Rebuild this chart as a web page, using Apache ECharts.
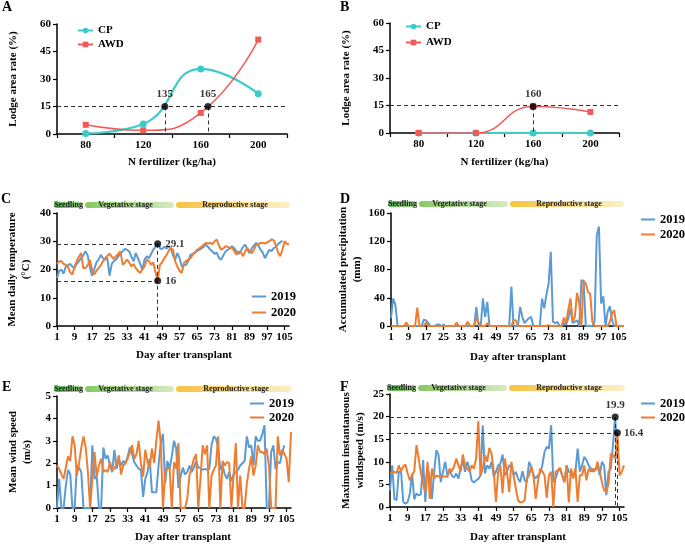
<!DOCTYPE html>
<html>
<head>
<meta charset="utf-8">
<script src="https://cdn.jsdelivr.net/npm/echarts@6/dist/echarts.min.js"></script>
<style>html,body{margin:0;padding:0;background:#fff}#main{width:685px;height:545px}</style>
</head>
<body>
<div id="main"></div>
<script>
// panels A/B: lodging area rate vs N rate
var nLevels = ['80', '120', '160', '200'];
var cpA = [0.3, 5.5, 35.5, 22];
var awdA = [5, 2, 11.5, 51.5];
var cpB = [0, 0, 0, 0];
var awdB = [0, 0, 14.5, 11.5];
var lodgeLimit = 15;
var critA = [[135, 15], [165, 15]];
var critB = [['160', 14.5]];

// panels C-F: daily weather after transplant
var days = [];
for (var d = 1; d <= 107; d++) days.push(String(d));

var temp2019 = [17,19.5,20,18.5,21,21.5,22,21,20.5,22, 23,24,25,26.5,25,21,17.8,20,22.5,23.5,
  25.2,24,23.5,24,17.8,22,23,23.5,24.7,25.5, 26.5,27.3,27,26.4,24.5,22.9,25.8,24,22,20,
  23.5,24.7,24,25.5,27,28,29.1,27.6,27.2,28, 27.5,28,27.6,25,23.5,25.8,24,21.1,21.5,21.7,
  23,25.2,25.5,26,26.5,27,27.5,28,28.8,28, 27,26.4,25.5,26,24,23.5,25,26.4,27,27.5,
  28.2,27.5,26.4,25.5,26.5,28,28.8,27,25.8,27.5, 28.5,29.4,28.5,27,26,24,25.5,27,26.5,27.6,
  28,29,29.6,30.3];
var temp2020 = [22,22.9,23,22,21.7,21,19,18.2,21,22.9, 24.5,25.8,20.5,20.5,21.5,23.5,20,18.2,19.5,20.5,
  21.5,22.9,24,24.8,25.6,24.5,23.7,24.8,25.5,26.4, 21.7,22.5,23.5,22.5,21.1,22,20.5,19.5,18.8,20,
  21.1,23.5,23,21.7,22.5,19,16,21.7,22.5,24, 25,26.5,27.6,27,22.9,21,19.5,18.8,22.3,23,
  23.5,24,25.2,26,27,27.5,28,28.8,29.4,29.2, 29.4,29,30,30.6,28.5,27,27.5,28.2,28,27.6,
  27.8,26.5,25.2,26.4,26,24.7,26.5,27.6,26.5,25.8, 27,28.8,29,29.4,29.4,29.2,29.6,30,30.6,30.4,
  28.5,26,24.7,27,30,29.1,28.8];
var tempMark = {day: '47', hi: 29.1, lo: 16};

var rain2019 = [11,39,30,0,0,0,0,0,0,0, 0,0,0,0,0,9,8,4,0,0, 0,2,2,0,2,0,0,0,0,0,
  0,0,0,0,0,0,0,0,0,27, 0,0,39,13,34,0,0,0,0,0, 0,0,0,0,0,56,0,0,0,27,
  13,4,8,11,13,0,0,0,0,39, 25,44,60,105,6,4,6,0,0,4, 2,11,25,4,6,8,0,65,64,0,
  0,0,0,6,128,141,32,42,0,20, 28,8,0,0];
var rain2020 = [0,0,0,0,0,0,0,5,0,0, 0,0,26,0,0,0,5,0,0,0, 0,0,0,0,0,0,0,0,0,0,
  5,0,0,0,0,6,0,0,0,12, 5,0,0,0,4,0,0,0,0,0, 0,0,0,0,0,0,8,8,0,0,
  0,0,0,0,0,0,0,0,0,0, 0,0,1,0,0,0,0,0,0,12, 4,23,39,6,13,47,32,0,64,60,
  48,46,6,0,0,0,0,0,0,0, 6,18,22,0,0,0,0];

var wind2019 = [0,1.3,0,0,1.0,1.7,1.5,0,0,1.9, 1.8,1.6,0,0,0,0,2.8,1.3,1.4,0,
  0,2.7,2.2,2.35,1.9,1.6,2.6,1.75,2.2,1.9, 2.1,2.0,2.3,2.7,2.4,2.05,1.9,1.75,1.7,0.5,
  1.3,1.6,2.2,0.7,0.7,0.7,1.9,2.9,3.3,1.1, 2.1,1.75,2.3,3.0,2.65,0.9,1.4,1.8,1.5,1.6,
  1.9,1.6,1.8,2.1,1.8,1.8,1.7,1.75,1.7,1.75, 2.8,3.2,3.1,2.7,1.7,1.9,1.5,1.3,1.6,1.2,
  1.5,1.6,1.7,1.9,2.0,2.1,3.2,2.7,2.8,1.9, 3.2,3.0,3.0,3.3,3.7,0,0,2.5,2.8,1.75,
  2.05,2.0,2.5,2.8];
var wind2020 = [1.9,1.75,1.5,1.3,1.8,2.3,2.1,3.2,2.8,1.45, 2.0,2.7,3.2,2.7,1.6,0,1.3,2.5,1.4,1.9,
  2.2,1.6,1.7,1.6,2.05,1.7,1.75,2.0,2.35,1.5, 1.9,2.0,2.2,2.5,2.8,2.2,2.4,3.0,2.0,1.4,
  2.6,2.05,1.8,2.65,2.0,3.0,3.9,2.9,0,1.6, 1.75,1.8,0,2.05,1.75,2.9,0,0,0,0.4,
  1.45,1.8,2.2,2.4,0,1.3,2.8,2.4,2.8,0, 1.45,1.7,1.9,3.2,0,2.1,1.9,2.05,2.0,0,
  1.45,2.9,0,1.45,0,0,1.1,1.75,2.3,1.45, 1.9,2.8,2.5,2.5,2.4,2.65,1.9,0,0,0,
  3.2,2.35,2.6,2.4,2.2,1.15,3.4];

var gust2019 = [3.7,9.2,1.8,1.5,7.8,7.9,1.1,0.7,1.1,3.0, 7.4,1.7,3.0,2.6,2.8,10.4,1.1,8.9,6.3,1.8,
  7.8,12.6,11.5,5.5,7.8,10,7,8.1,7,6.5, 7.4,6.3,8.5,10.4,7.8,10,8.5,5.9,5.4,5.9,
  6.2,7,18.1,7.4,9.2,8.5,10,6.7,7.8,9.2, 9.6,11.6,7,7.8,9.2,9.2,7,7.8,6.3,5.5,
  7.9,5.9,5.5,10,8.9,7,6.3,7,7.5,9.2, 12.2,13.3,12.9,18.1,5.5,6.3,7.8,8.5,7,5.5,
  9.2,7.8,7.5,7,7.8,12.9,7.8,9.2,11.1,10.4, 9.2,8.5,7.8,8.3,9.2,7,10,9.2,2.6,7.8,
  8.5,13.7,19.9,10.5];
var gust2020 = [7.4,7.6,7.8,7.5,9.2,7.9,8.9,9.4,7.4,5.9, 7,7.9,13.7,10.7,7.5,5.2,3.3,10,1.8,8.5,
  6.3,7,6.7,6.8,6.7,6.8,6.6,8.5,7.9,8.9, 10.7,9.2,7.8,11.6,9.2,8.5,7.8,9.2,8.5,10.7,
  19,7,8.5,11.5,10,13.1,11.8,7.8,1.1,7.8, 9.2,3.0,10.7,7.8,3.3,10,7,4.1,1.5,1.0,
  1.1,1.5,6.3,7,8.9,7,1.8,5.5,8.5,7.9, 7,2,7,7.8,0,7.8,8.1,8.7,7,5.5,
  9.2,1,8.5,6.3,8.5,1.1,7,7,9.2,5.9, 8.5,7.8,8.5,8,10,7.8,5.5,3.7,3.3,5.2,
  11.8,11.5,10.7,16.4,7,7.8,9.2];
var gustMarks = [['103', 19.9], ['104', 16.4]];

var FONT = 'Liberation Serif';
var cCP = '#3ccbc6', cAWD = '#f25a5a', c19 = '#5b9bd5', c20 = '#ed7d31';

var grids = [
    {left: 57, top: 24, width: 230, height: 110},
    {left: 390, top: 23, width: 229, height: 110},
    {left: 57, top: 213, width: 232, height: 113},
    {left: 391, top: 213, width: 232, height: 113},
    {left: 57, top: 396, width: 234, height: 112},
    {left: 390, top: 394, width: 234, height: 113}
];

function txt(size) {
    return {color: '#000', fontFamily: FONT, fontWeight: 'bold', fontSize: size};
}
var axLine = {lineStyle: {color: '#000', width: 1.5}};
var axTick = {show: true, inside: false, length: 4, lineStyle: {color: '#000', width: 1.2}};

function xCat(gi, data, name, gap, shift, every) {
    var tick = Object.assign({}, axTick);
    var lab = Object.assign({margin: 6}, txt(11));
    if (every) { tick.interval = every; lab.interval = every; }
    return {
        type: 'category', gridIndex: gi, data: data, boundaryGap: !every,
        axisLine: axLine, axisTick: tick, axisLabel: lab, splitLine: {show: false},
        name: name, nameLocation: 'middle', nameGap: gap,
        nameTextStyle: Object.assign({padding: [0, 0, 0, shift]}, txt(11))
    };
}
function yVal(gi, max, step, name, gap) {
    return {
        type: 'value', gridIndex: gi, min: 0, max: max, interval: step,
        axisLine: {show: true, lineStyle: axLine.lineStyle}, axisTick: axTick,
        axisLabel: Object.assign({margin: 6}, txt(11)), splitLine: {show: false},
        name: name, nameLocation: 'middle', nameGap: gap,
        nameTextStyle: Object.assign({lineHeight: 14}, txt(11))
    };
}

var dash = {color: '#333', type: [4, 3], width: 1};
function guides(list) {
    return {silent: true, symbol: ['none', 'none'], label: {show: false},
        lineStyle: dash, emphasis: {disabled: true}, data: list};
}
function seg(x1, y1, x2, y2) {
    return [{coord: [x1, y1]}, {coord: [x2, y2]}];
}
function dots(xi, yi, data, fmt, lab, ml) {
    return {type: 'scatter', xAxisIndex: xi, yAxisIndex: yi, data: data, symbolSize: 7, z: 5,
        itemStyle: {color: '#000'}, emphasis: {disabled: true},
        label: Object.assign({show: true, formatter: fmt}, lab, txt(11)), markLine: ml};
}
function lodge(name, data, gi, color, sym) {
    return {name: name, type: 'line', xAxisIndex: gi, yAxisIndex: gi, data: data, smooth: true,
        symbol: sym, symbolSize: sym === 'circle' ? 7 : 6,
        lineStyle: {color: color, width: sym === 'circle' ? 2.2 : 1.5}, itemStyle: {color: color}};
}
function daily(name, data, gi, color) {
    return {name: name, type: 'line', xAxisIndex: gi, yAxisIndex: gi, data: data, symbol: 'none',
        lineStyle: {color: color, width: 2}, itemStyle: {color: color}};
}
function legendAt(names, left, top, gap, size, line) {
    var l = {data: names, orient: 'vertical', left: left, top: top, itemGap: gap,
        textStyle: txt(size), padding: 0};
    if (line) { l.icon = 'rect'; l.itemWidth = line; l.itemHeight = 2; }
    else { l.itemWidth = 15; l.itemHeight = 7; }
    return l;
}

function stageBar(g, cy) {
    var L = g.left, R = g.left + g.width;
    var parts = [
        {x0: L - 3, x1: L + 26, c: ['#4db445', '#a8d993'], t: 'Seedling', dx: 0},
        {x0: L + 28, x1: L + 117, c: ['#86c964', '#d6eac0'], t: 'Vegetative stage', dx: -4},
        {x0: L + 119, x1: R + 1, c: ['#f6c240', '#fcefc7'], t: 'Reproductive stage', dx: 2}
    ];
    var out = [];
    parts.forEach(function (p) {
        out.push({type: 'rect', shape: {x: p.x0, y: cy - 3, width: p.x1 - p.x0, height: 6, r: 3},
            style: {fill: new echarts.graphic.LinearGradient(0, 0, 1, 0,
                [{offset: 0, color: p.c[0]}, {offset: 1, color: p.c[1]}])}, silent: true});
        out.push({type: 'text', x: (p.x0 + p.x1) / 2 + p.dx, y: cy, silent: true,
            style: {text: p.t, fill: '#222', align: 'center', verticalAlign: 'middle',
                font: 'bold 8px "' + FONT + '"'}});
    });
    return out;
}
function letter(t, x, y) {
    return {type: 'text', x: x, y: y, silent: true,
        style: {text: t, fill: '#000', verticalAlign: 'top', font: 'bold 14px "' + FONT + '"'}};
}

var bIdx = nLevels.indexOf(critB[0][0]);
var tIdx = days.indexOf(tempMark.day);
var g1 = days.indexOf(gustMarks[0][0]), g2 = days.indexOf(gustMarks[1][0]);

var chart = echarts.init(document.getElementById('main'));
var option = {
    animation: false,
    backgroundColor: '#fff',
    grid: grids,
    xAxis: [
        xCat(0, nLevels, 'N fertilizer (kg/ha)', 23, 0),
        xCat(1, nLevels, 'N fertilizer (kg/ha)', 24, 0),
        xCat(2, days, 'Day after transplant', 24, 22, 7),
        xCat(3, days, 'Day after transplant', 26, 22, 7),
        xCat(4, days, 'Day after transplant', 24, 18, 7),
        xCat(5, days, 'Day after transplant', 25, 22, 7),
        {type: 'value', gridIndex: 0, min: 60, max: 220, show: false}
    ],
    yAxis: [
        yVal(0, 60, 15, 'Lodge area rate (%)', 37),
        yVal(1, 60, 15, 'Lodge area rate (%)', 37),
        yVal(2, 40, 10, 'Mean daily temperature\n(°C)', 24),
        yVal(3, 160, 40, 'Accumulated precipitation\n(mm)', 24),
        yVal(4, 5, 1, 'Mean wind speed\n(m/s)', 23),
        yVal(5, 25, 5, 'Maximum instantaneous\nwindspeed (m/s)', 23)
    ],
    legend: [
        legendAt(['CP', 'AWD'], 77, 25, 3, 11),
        legendAt(['CP', 'AWD'], 405, 21, 5, 11),
        legendAt(['2019', '2020'], 252, 290, 3, 12.5, 14),
        legendAt(['2019', '2020'], 641, 213, 2, 12.5, 14),
        legendAt(['2019', '2020'], 250, 397, 1, 12.5, 14),
        legendAt(['2019', '2020'], 641, 397, 1, 12.5, 14)
    ],
    graphic: [
        letter('A', 2, 0), letter('B', 340, 0), letter('C', 1, 192),
        letter('D', 340, 192), letter('E', 2, 380), letter('F', 340, 380)
    ].concat(stageBar(grids[2], 205), stageBar(grids[3], 204),
        stageBar(grids[4], 389), stageBar(grids[5], 388)),
    series: [
        Object.assign(lodge('CP', cpA, 0, cCP, 'circle'), {markLine: guides([{yAxis: lodgeLimit}])}),
        lodge('AWD', awdA, 0, cAWD, 'rect'),
        dots(6, 0, critA, function (p) { return p.value[0]; }, {position: 'top', distance: 3},
            guides(critA.map(function (c) { return seg(c[0], c[1], c[0], 0); }))),

        Object.assign(lodge('CP', cpB, 1, cCP, 'circle'), {markLine: guides([{yAxis: lodgeLimit}])}),
        lodge('AWD', awdB, 1, cAWD, 'rect'),
        dots(1, 1, [[bIdx, critB[0][1]]], function () { return critB[0][0]; },
            {position: 'top', distance: 3}, guides([seg(bIdx, critB[0][1], bIdx, 0)])),

        daily('2019', temp2019, 2, c19),
        daily('2020', temp2020, 2, c20),
        dots(2, 2, [[tIdx, tempMark.hi], [tIdx, tempMark.lo]], function (p) { return p.value[1]; },
            {position: 'right', distance: 4},
            guides([seg(0, tempMark.hi, tIdx, tempMark.hi), seg(0, tempMark.lo, tIdx, tempMark.lo),
                seg(tIdx, tempMark.hi, tIdx, 0)])),

        daily('2019', rain2019, 3, c19),
        daily('2020', rain2020, 3, c20),

        daily('2019', wind2019, 4, c19),
        daily('2020', wind2020, 4, c20),

        daily('2019', gust2019, 5, c19),
        daily('2020', gust2020, 5, c20),
        dots(5, 5, [{value: [g1, gustMarks[0][1]], label: {position: 'top', distance: 3}},
                {value: [g2, gustMarks[1][1]], label: {position: 'right', distance: 3}}],
            function (p) { return p.value[1]; }, {},
            guides([seg(0, gustMarks[0][1], g1, gustMarks[0][1]), seg(0, gustMarks[1][1], g2, gustMarks[1][1]),
                seg(g1, gustMarks[0][1], g1, 0), seg(g2, gustMarks[1][1], g2, 0)]))
    ]
};
chart.setOption(option);
</script>
</body>
</html>
